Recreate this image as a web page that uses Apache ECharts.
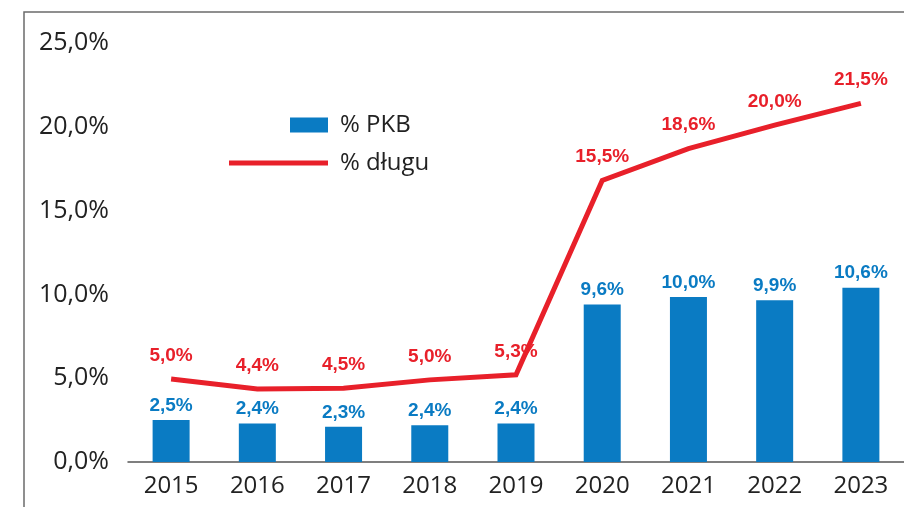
<!DOCTYPE HTML>
<html>
<head>
	<meta charset="utf-8" />
	<title>% PKB / % długu</title>
	<script src="https://cdn.jsdelivr.net/npm/echarts@6/dist/echarts.min.js"></script>
	<style>
		html, body { margin: 0; padding: 0; background: #fff; }
		#main { width: 904px; height: 507px; }
	</style>
</head>
<body>
	<div id="main"></div>
	<script type="text/javascript">
		// values (bar heights / line points as drawn)
		var years = ["2015", "2016", "2017", "2018", "2019", "2020", "2021", "2022", "2023"];
		var pkbValues = [2.5, 2.3, 2.1, 2.2, 2.3, 9.4, 9.85, 9.65, 10.4];
		var pkbLabels = ["2,5%", "2,4%", "2,3%", "2,4%", "2,4%", "9,6%", "10,0%", "9,9%", "10,6%"];
		var dluguValues = [4.95, 4.35, 4.4, 4.9, 5.2, 16.8, 18.7, 20.1, 21.4];
		var dluguLabels = ["5,0%", "4,4%", "4,5%", "5,0%", "5,3%", "15,5%", "18,6%", "20,0%", "21,5%"];
		var yTicks = [0, 5, 10, 15, 20, 25];

		var blue = "#0a7bc3";
		var red = "#e8202a";
		var txtFont = "'Open Sans', 'Noto Sans', sans-serif";
		var lblFont = "'Liberation Sans Narrow', 'Liberation Sans', sans-serif";

		var myChart = echarts.init(document.getElementById("main"));

		var option = {
			animation: false,
			backgroundColor: "#fff",
			graphic: [{
				type: "rect",
				shape: { x: 24, y: 12, width: 900, height: 520 },
				style: { fill: "none", stroke: "#6b6b6b", lineWidth: 1.5 },
				silent: true
			}],
			grid: { left: 128, top: 43, width: 782, height: 419 },
			legend: [{
				data: ["% PKB"],
				left: 290, top: 113, padding: 0,
				itemWidth: 38, itemHeight: 15, icon: "rect",
				textStyle: { fontFamily: txtFont, fontSize: 24, color: "#222", padding: [0, 0, 0, 7] }
			}, {
				data: ["% długu"],
				left: 229, top: 151, padding: 0,
				itemWidth: 99, itemHeight: 5, icon: "rect",
				textStyle: { fontFamily: txtFont, fontSize: 24, color: "#222", padding: [0, 0, 0, 7] }
			}],
			xAxis: {
				type: "category",
				data: years,
				axisLine: { lineStyle: { color: "#555", width: 1.5 } },
				axisTick: { show: false },
				axisLabel: { fontFamily: txtFont, fontSize: 24, color: "#222", margin: 12 }
			},
			yAxis: {
				type: "value",
				min: yTicks[0],
				max: yTicks[yTicks.length - 1],
				interval: 5,
				splitLine: { show: false },
				axisLine: { show: false },
				axisTick: { show: false },
				axisLabel: {
					fontFamily: txtFont, fontSize: 25, color: "#222", margin: 19,
					formatter: function (v) { return v.toFixed(1).replace(".", ",") + "%"; }
				}
			},
			series: [{
				name: "% PKB",
				type: "bar",
				data: pkbValues,
				barWidth: 37,
				itemStyle: { color: blue },
				label: {
					show: true, position: "top", distance: 5,
					fontFamily: lblFont, fontWeight: "bold", fontSize: 19, color: blue,
					formatter: function (p) { return pkbLabels[p.dataIndex]; }
				}
			}, {
				name: "% długu",
				type: "line",
				data: dluguValues,
				symbol: "circle",
				symbolSize: 0,
				showSymbol: true,
				itemStyle: { color: red },
				lineStyle: { color: red, width: 5, cap: "butt", join: "miter" },
				label: {
					show: true, position: "top", distance: 14,
					fontFamily: lblFont, fontWeight: "bold", fontSize: 19, color: red,
					formatter: function (p) { return dluguLabels[p.dataIndex]; }
				}
			}]
		};

		myChart.setOption(option);
	</script>
</body>
</html>
